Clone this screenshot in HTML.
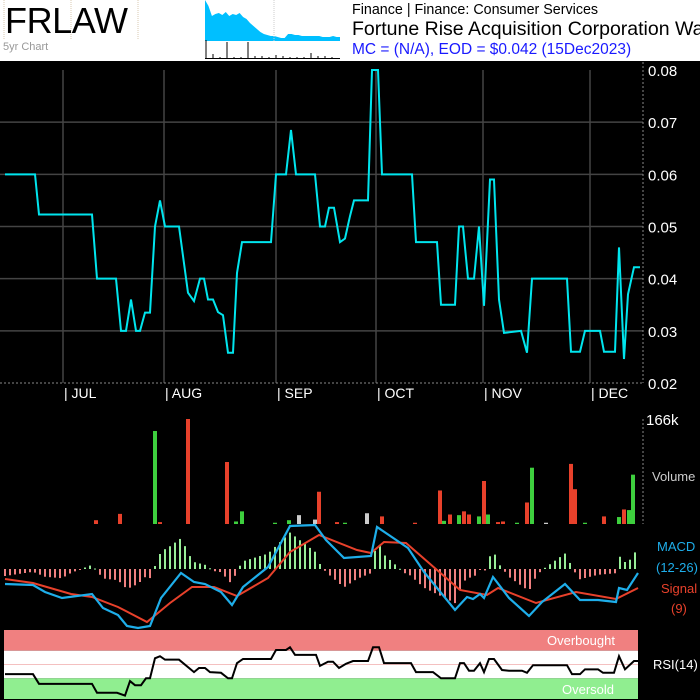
<!DOCTYPE html>
<html><head><meta charset="utf-8"><style>
html,body{margin:0;padding:0;background:#fff;}
body{width:700px;height:700px;position:relative;overflow:hidden;font-family:"Liberation Sans",sans-serif;}
svg{position:absolute;left:0;top:0;}
</style></head><body>
<svg id="c" width="700" height="700" viewBox="0 0 700 700">
<rect x="0" y="0" width="700" height="61" fill="#fff"/>
<line x1="4" y1="0" x2="4" y2="40" stroke="#d8c8b0" stroke-dasharray="1,1"/>
<line x1="71" y1="0" x2="71" y2="40" stroke="#d8c8b0" stroke-dasharray="1,1"/>
<line x1="138" y1="0" x2="138" y2="40" stroke="#d8c8b0" stroke-dasharray="1,1"/>
<text x="5" y="33" font-size="36" fill="#000" textLength="123">FRLAW</text>
<text x="3" y="50" font-size="11" fill="#999">5yr Chart</text>
<g id="thumb"></g>
<text x="352" y="14" font-size="14.3" fill="#000">Finance | Finance: Consumer Services</text>
<text x="352" y="35" font-size="19.5" fill="#000">Fortune Rise Acquisition Corporation Warrant</text>
<text x="352" y="54" font-size="15.5" fill="#1a1aff">MC = (N/A), EOD = $0.042 (15Dec2023)</text>
<rect x="0" y="61" width="700" height="639" fill="#000"/>
<g id="price"></g>
<g id="vol"></g>
<g id="macd"></g>
<g id="rsi"></g>
</svg>
<script>
// ---- data ----
const priceDays=[0,6,6.8,17.4,18.4,22.2,23.2,24.2,25.2,26.2,27,28,29,30,31,32,34.8,36.6,37.8,39,39.8,40.6,41.6,42.6,43.6,44.6,45.6,46.4,47.4,53.2,54.2,56.2,57.2,58.2,62,63,64,64.8,65.8,67,68,69,69.8,72.6,73.4,74.6,75.4,81.4,82.2,86.4,87.2,90,90.8,91.6,92.6,93.8,94.8,95.8,97,97.8,98.8,99.8,103.2,104.4,105.4,112.4,113.2,115,116,119,119.8,122,122.8,123.8,124.6,125.8,127];
const prices=[.06,.06,.0523,.0523,.04,.04,.03,.03,.036,.03,.03,.0335,.0335,.05,.055,.05,.05,.0373,.0357,.04,.04,.036,.036,.0336,.033,.0258,.0258,.0411,.047,.047,.06,.06,.0685,.06,.06,.05,.05,.0536,.0536,.047,.0477,.052,.055,.055,.08,.08,.06,.06,.047,.047,.035,.035,.05,.05,.04,.04,.05,.0348,.059,.059,.036,.0296,.030,.0258,.04,.04,.026,.026,.03,.03,.026,.026,.046,.0246,.037,.0422,.0422];
const priceTicks=[0.02,0.03,0.04,0.05,0.06,0.07,0.08];
const monthNames=["JUL","AUG","SEP","OCT","NOV","DEC"];
const monthDays=[11.6,31.8,54.2,74.2,95.6,117];
const volDays=[18.2,23,30,31,36.6,44.4,46.2,47.4,54,56.8,58.8,62,62.8,66.4,68,72.4,75.4,82,87,87.8,89,90.8,91.8,92.8,94.8,95.8,96.6,98.6,99.6,102.4,104.4,105.4,108.2,113.2,114,116,119.8,122.8,123.8,124.8,125.6];
const volValues=[6,16,147,3,166,98,4,20,2,6,14,7,51,3,2,17,12,2,53,5,15,14,20,15,12,68,15,3,4,2,34,89,2,95,55,2,12,11,23,22,78];
const volDir=["d","d","u","d","d","d","u","u","u","u","n","n","d","d","u","n","d","d","d","u","d","u","d","d","u","d","u","d","d","u","d","u","n","d","d","u","d","u","d","u","u"];
const macdDays=[0,5.6,8,11.4,17.4,19.6,22.6,24.4,26.6,29,31.2,35.2,37.8,40,43.2,45.4,47.6,52.6,57,62,64.2,67.8,73.2,74.4,80.6,83.8,90,92.4,93.6,95,95.8,97.6,100.8,104.8,107.4,112,115,118.6,122.2,122.8,124.4,126.6];
const macdValues=[-1.5,-1.6,-2.3,-2.9,-2.5,-3.9,-4.6,-5.7,-5.9,-5.7,-2.9,-0.4,-1.3,-1.5,-2.3,-3.6,-1.8,0.2,4.3,4.4,2.9,1.1,1.3,4.2,2.1,-0.3,-4.1,-2.8,-3.0,-2.5,-2.9,-0.8,-2.9,-4.7,-3.3,-1.5,-3.1,-3.1,-3.3,-1.9,-2.1,-0.4];
const signalDays=[0,5.6,13.2,17.4,22.6,28.4,33,37.4,41.8,46.4,52.6,57,62.8,70.4,73.2,75.8,80.2,91,96.4,98.6,106.2,114.2,122.2,126.6];
const signalValues=[-1.0,-1.4,-2.5,-2.8,-3.8,-5.3,-3.4,-1.8,-1.8,-2.7,-0.9,1.7,3.4,1.9,1.6,2.7,2.6,-2.1,-2.6,-1.9,-3.4,-2.3,-3.0,-1.9];
const rsiDays=[0,5.6,6.8,17.4,18.4,22.4,24,25,26,27.2,28.2,29,30,31,32,34.8,37.8,38.8,40,41,43.2,44.6,45.4,46.4,47.6,53.2,54.2,56.2,57,58,62.2,63,64.6,65.6,66.8,68.2,69.6,72.6,73.6,74.8,75.8,81.2,82.2,85.6,87.2,90,91,91.8,92.8,93.8,95,95.8,96.8,97.8,99.4,100.8,103.4,104.4,105.6,112.4,113.4,115,116,118.6,119.6,121.8,122.8,124,125.8,126.6];
const rsiValues=[36,36,22,22,9,9,5,26,20,20,30,30,59,62,57,57,39,45,45,39,38,30,30,52,58,58,71,71,75,64,64,48,54,54,45,51,55,55,75,75,52,52,39,39,30,30,52,52,41,41,52,39,58,58,42,41,41,38,49,49,36,36,43,43,38,38,62,43,55,55];
const thumbPrices=[41,35,25,27,28,26,29,25,27,26,28,24,22,18,15,12,9,7,6,5,5,4,3,3,7,7,6,6,5,5,5,5,5,5,4,4,4,5,4,4];
const thumbVols=[18,4,1,16,1,1,16,2,2,1,3,2,1,1,1,5,2,2,1];
// ---- scales ----
const NS='http://www.w3.org/2000/svg';
const X0=5,X1=640,D0=0,D1=127;
const x=d=>X0+(d-D0)/(D1-D0)*(X1-X0);
const yP=p=>70+(0.08-p)/0.06*313;
const yV=v=>524-v/166*105;
const yM=v=>569-v*10;
const yR=v=>699-v*0.69;
function mk(tag,attrs,parent){const e=document.createElementNS(NS,tag);for(const k in attrs)e.setAttribute(k,attrs[k]);parent.appendChild(e);return e;}
function interp(ds,vs,d){if(d<=ds[0])return vs[0];for(let i=1;i<ds.length;i++){if(d<=ds[i]){const t=(d-ds[i-1])/(ds[i]-ds[i-1]);return vs[i-1]+t*(vs[i]-vs[i-1]);}}return vs[vs.length-1];}
// thumbnail
const th=document.getElementById('thumb');
let tp='M205,41 ';thumbPrices.forEach((v,i)=>{tp+='L'+(205+i*135/(thumbPrices.length-1))+','+(41-v)+' ';});tp+='L340,41 Z';
const ta=mk('path',{d:tp,fill:'#00bfff'},th);


mk('line',{x1:205,y1:58.5,x2:340,y2:58.5,stroke:'#000'},th);
thumbVols.forEach((v,i)=>{mk('line',{x1:206+i*7,y1:58,x2:206+i*7,y2:58-v,stroke:'#000'},th);});
mk('line',{x1:274,y1:0,x2:274,y2:41,stroke:'#ccc','stroke-dasharray':'1,1'},th);
// price panel
const P=document.getElementById('price');
priceTicks.forEach(t=>{
 if(t>0.02&&t<0.08){const g=mk('line',{x1:0,y1:yP(t),x2:643,y2:yP(t),stroke:'#444','stroke-width':1.5},P);
 
 }
 const l=mk('text',{x:648,y:yP(t)+6,'font-size':15,fill:'#fff'},P);l.textContent=t.toFixed(2);
 
 
});
monthDays.forEach((d,i)=>{
 const g=mk('line',{x1:x(d),y1:70,x2:x(d),y2:383,stroke:'#444','stroke-width':1.5},P);
 
 
 const t=mk('text',{x:x(d)+1,y:398,'font-size':14,fill:'#fff'},P);t.textContent='| '+monthNames[i];
 
 
});
mk('line',{x1:0,y1:383,x2:643,y2:383,stroke:'#888','stroke-dasharray':'2,2'},P);
mk('line',{x1:643,y1:62,x2:643,y2:383,stroke:'#888','stroke-dasharray':'2,2'},P);
const pl=mk('polyline',{points:priceDays.map((d,i)=>x(d)+','+yP(prices[i])).join(' '),fill:'none',stroke:'#00e5ee','stroke-width':2},P);


// volume
const V=document.getElementById('vol');
mk('line',{x1:643,y1:419,x2:643,y2:524,stroke:'#888','stroke-dasharray':'2,2'},V);
const vl=mk('text',{x:646,y:425,'font-size':15,fill:'#fff'},V);vl.textContent='166k';


const vt=mk('text',{x:652,y:481,'font-size':13,fill:'#ccc'},V);vt.textContent='Volume';


volDays.forEach((d,i)=>{
 const c=volDir[i]==='u'?'#3ecf3e':volDir[i]==='d'?'#e8412b':'#cccccc';
 const b=mk('rect',{x:x(d)-2,y:yV(volValues[i]),width:4,height:524-yV(volValues[i]),fill:c},V);
 
 
});
// macd
const M=document.getElementById('macd');
for(let d=0;d<=126;d++){
 const h=(interp(macdDays,macdValues,d)-interp(signalDays,signalValues,d))*1.4;
 const y0=yM(0),y1=yM(h);
 const b=mk('rect',{x:x(d)-1,y:Math.min(y0,y1),width:2,height:Math.max(1,Math.abs(y1-y0)),fill:h>=0?'#98ee98':'#f08080'},M);
 
 
}
const sl=mk('polyline',{points:signalDays.map((d,i)=>x(d)+','+yM(signalValues[i])).join(' '),fill:'none',stroke:'#e8412b','stroke-width':2},M);


const ml=mk('polyline',{points:macdDays.map((d,i)=>x(d)+','+yM(macdValues[i])).join(' '),fill:'none',stroke:'#1eaeea','stroke-width':2.2},M);


[['MACD',657,551,'#1eaeea'],['(12-26)',656,572,'#1eaeea'],['Signal',661,593,'#e8412b'],['(9)',671,613,'#e8412b']].forEach(a=>{
 const t=mk('text',{x:a[1],y:a[2],'font-size':13,fill:a[3]},M);t.textContent=a[0];
 
 
});
// rsi
const R=document.getElementById('rsi');
const rb1=mk('rect',{x:4,y:yR(100),width:634,height:yR(70)-yR(100),fill:'#f08080'},R);


const rb2=mk('rect',{x:4,y:yR(70),width:634,height:yR(30)-yR(70),fill:'#fff'},R);


const rb3=mk('rect',{x:4,y:yR(30),width:634,height:yR(0)-yR(30),fill:'#90ee90'},R);


mk('line',{x1:4,y1:yR(50),x2:638,y2:yR(50),stroke:'#f4c0c0'},R);
const ob=mk('text',{x:547,y:645,'font-size':13,fill:'#fff'},R);ob.textContent='Overbought';


const os=mk('text',{x:562,y:694,'font-size':13,fill:'#fff'},R);os.textContent='Oversold';


const rl=mk('polyline',{points:rsiDays.map((d,i)=>x(d)+','+yR(rsiValues[i])).join(' '),fill:'none',stroke:'#000','stroke-width':2},R);


const rt=mk('text',{x:653,y:669,'font-size':13,fill:'#fff'},R);rt.textContent='RSI(14)';


</script>
</body></html>
